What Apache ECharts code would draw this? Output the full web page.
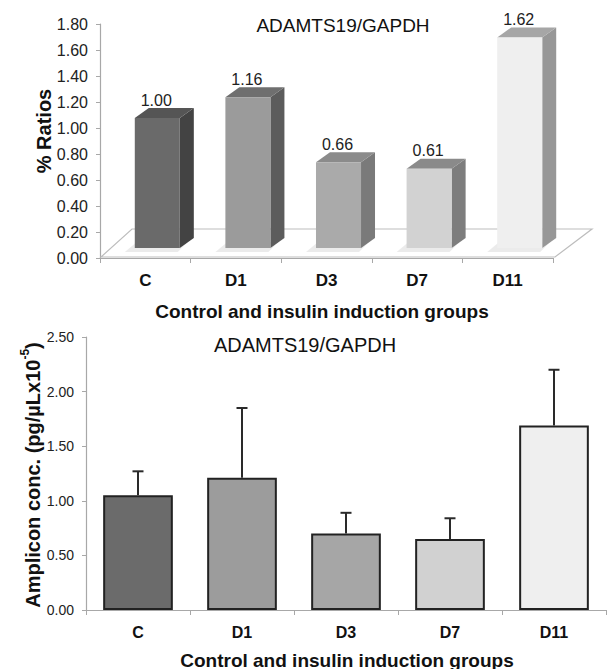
<!DOCTYPE html>
<html>
<head>
<meta charset="utf-8">
<script src="https://cdn.jsdelivr.net/npm/echarts@6/dist/echarts.min.js"></script>
<style>
html,body{margin:0;padding:0;background:#fff;}
#chart{width:607px;height:669px;}
</style>
</head>
<body>
<div id="chart"></div>
<script>
// ---- data ----
const categories = ['C', 'D1', 'D3', 'D7', 'D11'];
const ratioValues = [1.00, 1.16, 0.66, 0.61, 1.62];
const ampliconValues = [1.05, 1.21, 0.70, 0.65, 1.69];
const ampliconErrors = [0.22, 0.64, 0.19, 0.19, 0.51];
const ratioAxis = { min: 0, max: 1.8, interval: 0.2 };
const ampliconAxis = { min: 0, max: 2.5, interval: 0.5 };
const titleText = 'ADAMTS19/GAPDH';
const xName = 'Control and insulin induction groups';
const topYName = '% Ratios';

// ---- styles ----
const FONT = '"Liberation Sans", Arial, sans-serif';
const frontColors = ['#6a6a6a', '#9b9b9b', '#aaaaaa', '#d2d2d2', '#efefef'];
const topColors = ['#555555', '#6f6f6f', '#8b8b8b', '#8a8a8a', '#a6a6a6'];
const sideColors = ['#434343', '#5c5c5c', '#7a7a7a', '#7d7d7d', '#979797'];
const flatColors = ['#6b6b6b', '#9c9c9c', '#a6a6a6', '#d1d1d1', '#efefef'];
const axisGrey = '#a8a8a8';

const chart = echarts.init(document.getElementById('chart'), null, { renderer: 'svg' });

const DX = 14, DY = -10, LIFT = 10;

function render3DBar(params, api) {
  const idx = api.value(0);
  const v = api.value(1);
  const base = api.coord([idx, 0]);
  const top = api.coord([idx, v]);
  const band = api.size([1, 0])[0];
  const L = base[0] - band * 0.116;
  const W = band * 0.497;
  const R = L + W;
  const B = base[1] - LIFT;
  const T = top[1] - LIFT;
  const i = params.dataIndex;
  return {
    type: 'group',
    children: [
      { type: 'polygon', shape: { points: [[L - 10, B + 4], [L + 2, B - 6], [R + 8, B - 6], [R - 2, B + 4]] },
        style: { fill: 'rgba(0,0,0,0.08)' }, z2: 0 },
      { type: 'polygon', shape: { points: [[R, T], [R + DX, T + DY], [R + DX, B + DY], [R, B]] },
        style: { fill: sideColors[i] }, z2: 1 },
      { type: 'polygon', shape: { points: [[L, T], [L + DX, T + DY], [R + DX, T + DY], [R, T]] },
        style: { fill: topColors[i] }, z2: 1 },
      { type: 'rect', shape: { x: L, y: T, width: W, height: B - T },
        style: { fill: frontColors[i] }, z2: 2 },
      { type: 'text', style: { x: L + W / 2 - 1, y: T - 18, text: v.toFixed(2), fill: '#222',
        font: '16px ' + FONT, textAlign: 'center', textVerticalAlign: 'middle' }, z2: 3 }
    ]
  };
}

function renderFloor(params, api) {
  const cs = params.coordSys;
  const bx = cs.x, by = cs.y + cs.height - 1, r = cs.x + cs.width + 2;
  return {
    type: 'polygon',
    shape: { points: [[bx + 1, by], [r, by], [r + 37, by - 28], [bx + 32, by - 28]] },
    style: { fill: '#ffffff', stroke: '#bdbdbd', lineWidth: 1.2 },
    silent: true
  };
}

function renderError(params, api) {
  const idx = api.value(0);
  const v = api.value(1);
  const e = api.value(2);
  const p1 = api.coord([idx, v]);
  const p2 = api.coord([idx, v + e]);
  const style = { stroke: '#2a2a2a', lineWidth: 2 };
  return {
    type: 'group',
    children: [
      { type: 'line', shape: { x1: p1[0], y1: p1[1], x2: p2[0], y2: p2[1] }, style: style },
      { type: 'line', shape: { x1: p2[0] - 5.5, y1: p2[1], x2: p2[0] + 5.5, y2: p2[1] }, style: style }
    ]
  };
}

const option = {
  backgroundColor: '#ffffff',
  animation: false,
  grid: [
    { left: 100, right: 54, top: 24, height: 234 },
    { left: 86, right: 1, top: 337, height: 273 }
  ],
  xAxis: [
    { type: 'category', gridIndex: 0, data: categories,
      axisLine: { lineStyle: { color: axisGrey, width: 1.2 } },
      axisTick: { show: true, length: 5, lineStyle: { color: axisGrey } },
      axisLabel: { margin: 14, color: '#111', fontWeight: 'bold', fontSize: 17, fontFamily: FONT } },
    { type: 'category', gridIndex: 1, data: categories,
      axisLine: { lineStyle: { color: axisGrey, width: 1.2 } },
      axisTick: { show: true, length: 5, lineStyle: { color: axisGrey } },
      axisLabel: { margin: 14, color: '#111', fontWeight: 'bold', fontSize: 16, fontFamily: FONT } }
  ],
  yAxis: [
    { type: 'value', gridIndex: 0, min: ratioAxis.min, max: ratioAxis.max, interval: ratioAxis.interval,
      axisLine: { show: true, lineStyle: { color: axisGrey, width: 1.2 } },
      axisTick: { show: true, length: 4, lineStyle: { color: axisGrey } },
      splitLine: { show: false },
      axisLabel: { margin: 12, color: '#222', fontSize: 16, fontFamily: FONT,
        formatter: function (v) { return v.toFixed(2); } } },
    { type: 'value', gridIndex: 1, min: ampliconAxis.min, max: ampliconAxis.max, interval: ampliconAxis.interval,
      axisLine: { show: true, lineStyle: { color: axisGrey, width: 1.2 } },
      axisTick: { show: true, length: 4, lineStyle: { color: axisGrey } },
      splitLine: { show: false },
      axisLabel: { margin: 12, color: '#222', fontSize: 14, fontFamily: FONT,
        formatter: function (v) { return v.toFixed(2); } } }
  ],
  series: [
    { type: 'custom', name: 'floor', xAxisIndex: 0, yAxisIndex: 0, data: [[0, 0]],
      renderItem: renderFloor, z: 1, silent: true },
    { type: 'custom', name: 'Ratios', xAxisIndex: 0, yAxisIndex: 0,
      data: categories.map(function (c, i) { return [i, ratioValues[i]]; }),
      renderItem: render3DBar, z: 2 },
    { type: 'bar', name: 'Amplicon', xAxisIndex: 1, yAxisIndex: 1, barWidth: '67%',
      data: ampliconValues.map(function (v, i) {
        return { value: v, itemStyle: { color: flatColors[i], borderColor: '#222', borderWidth: 2 } };
      }), z: 2 },
    { type: 'custom', name: 'Error', xAxisIndex: 1, yAxisIndex: 1,
      data: categories.map(function (c, i) { return [i, ampliconValues[i], ampliconErrors[i]]; }),
      renderItem: renderError, z: 3 }
  ],
  graphic: [
    { type: 'text', x: 343, y: 25, style: { text: titleText, font: '19px ' + FONT, fill: '#111',
      textAlign: 'center', textVerticalAlign: 'middle' } },
    { type: 'text', x: 305, y: 345, style: { text: titleText, font: '20px ' + FONT, fill: '#111',
      textAlign: 'center', textVerticalAlign: 'middle' } },
    { type: 'text', x: 322, y: 311, style: { text: xName, font: 'bold 19px ' + FONT, fill: '#111',
      textAlign: 'center', textVerticalAlign: 'middle' } },
    { type: 'text', x: 347, y: 660, style: { text: xName, font: 'bold 19px ' + FONT, fill: '#111',
      textAlign: 'center', textVerticalAlign: 'middle' } },
    { type: 'text', x: 44, y: 131, rotation: Math.PI / 2, style: { text: topYName, font: 'bold 20px ' + FONT, fill: '#111',
      textAlign: 'center', textVerticalAlign: 'middle' } },
    { type: 'text', x: 31, y: 475, rotation: Math.PI / 2,
      style: { text: '{a|Amplicon conc. (pg/µLx10}{s|-5}{a|)}', fill: '#111', align: 'center', verticalAlign: 'middle',
        rich: { a: { font: 'bold 20px ' + FONT, fill: '#111', lineHeight: 24, verticalAlign: 'bottom' },
                s: { font: 'bold 12px ' + FONT, fill: '#111', lineHeight: 24, verticalAlign: 'top' } } } }
  ]
};

chart.setOption(option);
</script>
</body>
</html>
